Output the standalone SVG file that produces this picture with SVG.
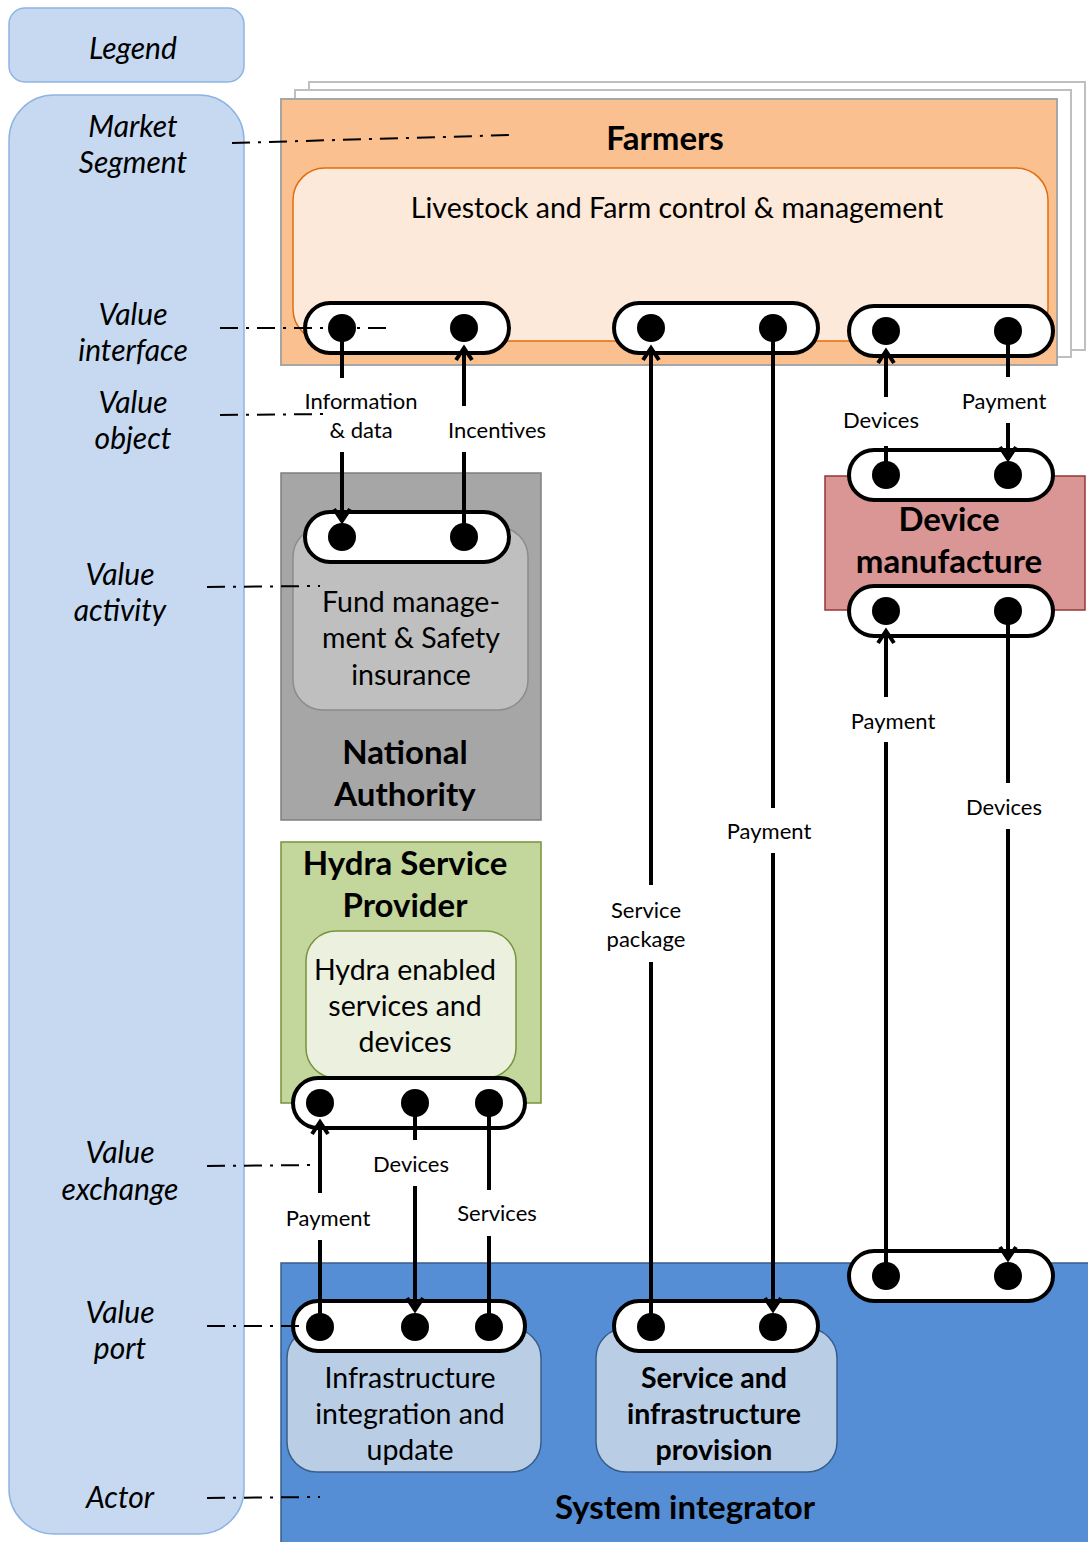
<svg xmlns="http://www.w3.org/2000/svg" width="1088" height="1542" viewBox="0 0 1088 1542">
<style>
text{font-family:Lato,"Open Sans","Liberation Sans",sans-serif;fill:#000;text-anchor:middle;dominant-baseline:central}
.leg{font-style:italic;font-size:30px}
.ttl{font-weight:bold;font-size:33px}
.act{font-size:28.5px}
.lbl{font-size:22px}
.pill{fill:#fff;stroke:#000;stroke-width:4}
.dot{fill:#000}
.con{stroke:#000;stroke-width:4;fill:none}
.dd{stroke:#000;stroke-width:2;fill:none;stroke-dasharray:18 8 3 8}
</style>
<defs>
<marker id="arr" markerUnits="userSpaceOnUse" markerWidth="30" markerHeight="30" viewBox="-15 -15 30 30" refX="0" refY="0" orient="auto">
<path d="M-12,-8 L0,0 L-12,8" fill="none" stroke="#000" stroke-width="4"/>
</marker>
</defs>
<rect width="1088" height="1542" fill="#fff"/>

<g id="legend">
<rect x="9" y="8" width="235" height="74" rx="16" fill="#c6d9f1" stroke="#8eb4e3" stroke-width="1.5"/>
<text class="leg" x="133" y="47">Legend</text>
<rect x="9" y="95" width="235" height="1439" rx="45" fill="#c6d9f1" stroke="#8eb4e3" stroke-width="1.5"/>
<text class="leg" x="133" y="125">Market</text>
<text class="leg" x="133" y="161">Segment</text>
<text class="leg" x="133" y="313">Value</text>
<text class="leg" x="133" y="349">interface</text>
<text class="leg" x="133" y="401">Value</text>
<text class="leg" x="133" y="437">object</text>
<text class="leg" x="120" y="573">Value</text>
<text class="leg" x="120" y="609">activity</text>
<text class="leg" x="120" y="1151">Value</text>
<text class="leg" x="120" y="1188">exchange</text>
<text class="leg" x="120" y="1311">Value</text>
<text class="leg" x="120" y="1347">port</text>
<text class="leg" x="120" y="1496">Actor</text>
</g>

<g id="farmers">
<rect x="309" y="82" width="776" height="268" fill="#fff" stroke="#bfbfbf" stroke-width="2"/>
<rect x="295" y="90" width="776" height="267" fill="#fff" stroke="#bfbfbf" stroke-width="2"/>
<rect x="281" y="99" width="776" height="266" fill="#fac090" stroke="#a6a6a6" stroke-width="2"/>
<text class="ttl" x="665" y="137">Farmers</text>
<rect x="293" y="168" width="755" height="173" rx="32" fill="#fde9d9" stroke="#e46c0a" stroke-width="1.5"/>
<text class="act" x="677" y="207">Livestock and Farm control &amp; management</text>
<rect class="pill" x="305" y="303" width="204" height="50" rx="25"/>
<circle class="dot" cx="342" cy="328" r="14"/><circle class="dot" cx="464" cy="328" r="14"/>
<rect class="pill" x="614" y="303" width="204" height="50" rx="25"/>
<circle class="dot" cx="651" cy="328" r="14"/><circle class="dot" cx="773" cy="328" r="14"/>
<rect class="pill" x="849" y="306" width="204" height="50" rx="25"/>
<circle class="dot" cx="886" cy="331" r="14"/><circle class="dot" cx="1008" cy="331" r="14"/>
</g>

<g id="national-authority">
<rect x="281" y="473" width="260" height="347" fill="#a6a6a6" stroke="#7f7f7f" stroke-width="1.5"/>
<rect x="293" y="527" width="235" height="183" rx="30" fill="#bfbfbf" stroke="#8c8c8c" stroke-width="1.5"/>
<text class="act" x="411" y="601">Fund manage-</text>
<text class="act" x="411" y="637">ment &amp; Safety</text>
<text class="act" x="411" y="674">insurance</text>
<text class="ttl" x="405" y="751">National</text>
<text class="ttl" x="405" y="793">Authority</text>
<rect class="pill" x="305" y="512" width="204" height="50" rx="25"/>
<circle class="dot" cx="342" cy="537" r="14"/><circle class="dot" cx="464" cy="537" r="14"/>
</g>

<g id="device-manufacture">
<rect x="825" y="476" width="260" height="134" fill="#d99694" stroke="#953735" stroke-width="1.5"/>
<text class="ttl" x="949" y="518">Device</text>
<text class="ttl" x="949" y="560">manufacture</text>
<rect class="pill" x="849" y="450" width="204" height="50" rx="25"/>
<circle class="dot" cx="886" cy="475" r="14"/><circle class="dot" cx="1008" cy="475" r="14"/>
<rect class="pill" x="849" y="586" width="204" height="50" rx="25"/>
<circle class="dot" cx="886" cy="611" r="14"/><circle class="dot" cx="1008" cy="611" r="14"/>
</g>

<g id="hydra-service-provider">
<rect x="281" y="842" width="260" height="261" fill="#c3d69b" stroke="#77933c" stroke-width="1.5"/>
<text class="ttl" x="405" y="862">Hydra Service</text>
<text class="ttl" x="405" y="904">Provider</text>
<rect x="306" y="931" width="210" height="147" rx="30" fill="#ebf1de" stroke="#77933c" stroke-width="1.5"/>
<text class="act" x="405" y="969">Hydra enabled</text>
<text class="act" x="405" y="1005">services and</text>
<text class="act" x="405" y="1041">devices</text>
<rect class="pill" x="293" y="1078" width="232" height="50" rx="25"/>
<circle class="dot" cx="320" cy="1103" r="14"/><circle class="dot" cx="415" cy="1103" r="14"/><circle class="dot" cx="489" cy="1103" r="14"/>
</g>

<g id="system-integrator">
<rect x="281" y="1263" width="810" height="285" fill="#558ed5" stroke="#385d8a" stroke-width="1.5"/>
<text class="ttl" x="685" y="1506">System integrator</text>
<rect x="287" y="1328" width="254" height="144" rx="30" fill="#b9cde5" stroke="#385d8a" stroke-width="1.5"/>
<text class="act" x="410" y="1377">Infrastructure</text>
<text class="act" x="410" y="1413">integration and</text>
<text class="act" x="410" y="1449">update</text>
<rect x="596" y="1328" width="241" height="144" rx="30" fill="#b9cde5" stroke="#385d8a" stroke-width="1.5"/>
<text class="act" x="714" y="1377" font-weight="bold">Service and</text>
<text class="act" x="714" y="1413" font-weight="bold">infrastructure</text>
<text class="act" x="714" y="1449" font-weight="bold">provision</text>
<rect class="pill" x="293" y="1301" width="232" height="50" rx="25"/>
<circle class="dot" cx="320" cy="1327" r="14"/><circle class="dot" cx="415" cy="1327" r="14"/><circle class="dot" cx="489" cy="1327" r="14"/>
<rect class="pill" x="614" y="1301" width="204" height="50" rx="25"/>
<circle class="dot" cx="651" cy="1327" r="14"/><circle class="dot" cx="773" cy="1327" r="14"/>
<rect class="pill" x="849" y="1251" width="204" height="50" rx="25"/>
<circle class="dot" cx="886" cy="1276" r="14"/><circle class="dot" cx="1008" cy="1276" r="14"/>
</g>

<g id="connectors">
<line class="con" x1="342" y1="328" x2="342" y2="378"/>
<line class="con" x1="342" y1="452" x2="342" y2="521" marker-end="url(#arr)"/>
<text class="lbl" x="361" y="400">Information</text>
<text class="lbl" x="361" y="429">&amp; data</text>

<line class="con" x1="464" y1="537" x2="464" y2="452"/>
<line class="con" x1="464" y1="406" x2="464" y2="348" marker-end="url(#arr)"/>
<text class="lbl" x="497" y="429">Incentives</text>

<line class="con" x1="651" y1="1327" x2="651" y2="962"/>
<line class="con" x1="651" y1="885" x2="651" y2="348" marker-end="url(#arr)"/>
<text class="lbl" x="646" y="909">Service</text>
<text class="lbl" x="646" y="938">package</text>

<line class="con" x1="773" y1="328" x2="773" y2="808"/>
<line class="con" x1="773" y1="853" x2="773" y2="1310" marker-end="url(#arr)"/>
<text class="lbl" x="769" y="830">Payment</text>

<line class="con" x1="886" y1="475" x2="886" y2="446"/>
<line class="con" x1="886" y1="397" x2="886" y2="351" marker-end="url(#arr)"/>
<text class="lbl" x="881" y="419">Devices</text>

<line class="con" x1="1008" y1="331" x2="1008" y2="377"/>
<line class="con" x1="1008" y1="423" x2="1008" y2="459" marker-end="url(#arr)"/>
<text class="lbl" x="1004" y="400">Payment</text>

<line class="con" x1="886" y1="1276" x2="886" y2="742"/>
<line class="con" x1="886" y1="697" x2="886" y2="631" marker-end="url(#arr)"/>
<text class="lbl" x="893" y="720">Payment</text>

<line class="con" x1="1008" y1="611" x2="1008" y2="783"/>
<line class="con" x1="1008" y1="829" x2="1008" y2="1259" marker-end="url(#arr)"/>
<text class="lbl" x="1004" y="806">Devices</text>

<line class="con" x1="320" y1="1327" x2="320" y2="1240"/>
<line class="con" x1="320" y1="1193" x2="320" y2="1122" marker-end="url(#arr)"/>
<text class="lbl" x="328" y="1217">Payment</text>

<line class="con" x1="415" y1="1103" x2="415" y2="1140"/>
<line class="con" x1="415" y1="1186" x2="415" y2="1310" marker-end="url(#arr)"/>
<text class="lbl" x="411" y="1163">Devices</text>

<line class="con" x1="489" y1="1103" x2="489" y2="1190"/>
<line class="con" x1="489" y1="1236" x2="489" y2="1327"/>
<text class="lbl" x="497" y="1212">Services</text>
</g>

<g id="legend-pointers">
<line class="dd" x1="232" y1="143" x2="512" y2="135"/>
<line class="dd" x1="220" y1="328" x2="393" y2="328"/>
<line class="dd" x1="220" y1="415" x2="330" y2="414"/>
<line class="dd" x1="207" y1="587" x2="320" y2="586"/>
<line class="dd" x1="207" y1="1166" x2="320" y2="1165"/>
<line class="dd" x1="207" y1="1326" x2="300" y2="1326"/>
<line class="dd" x1="207" y1="1498" x2="320" y2="1497"/>
</g>
</svg>
